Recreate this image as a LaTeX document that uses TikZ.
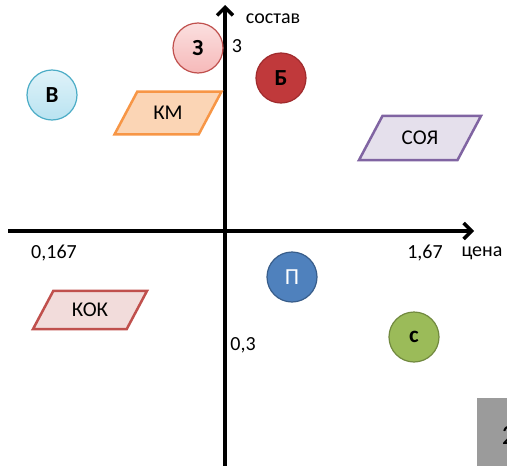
\documentclass[tikz,border=0pt]{standalone}
\usepackage{fontspec}
\setmainfont{Carlito}
\usetikzlibrary{arrows.meta,shapes.geometric}

\definecolor{zfill}{HTML}{F6B9B9}
\definecolor{zline}{HTML}{C0504D}
\definecolor{bfill}{HTML}{C0393B}
\definecolor{bline}{HTML}{A02B2D}
\definecolor{vfill}{HTML}{B9E3F1}
\definecolor{vline}{HTML}{4BACC6}
\definecolor{pfill}{HTML}{4F81BD}
\definecolor{pline}{HTML}{385D8A}
\definecolor{sfill}{HTML}{9BBB59}
\definecolor{sline}{HTML}{71893F}
\definecolor{kmfill}{HTML}{FBD5B5}
\definecolor{kmline}{HTML}{F79646}
\definecolor{soyfill}{HTML}{E5E0EC}
\definecolor{soyline}{HTML}{8064A2}
\definecolor{kokfill}{HTML}{F2DCDB}
\definecolor{kokline}{HTML}{C0504D}
\definecolor{boxgray}{HTML}{9B9B9B}

\begin{document}
\begin{tikzpicture}[x=1pt,y=-1pt,
  every node/.style={font=\fontsize{20}{23}\selectfont},
  axis/.style={line width=3.5pt,-{Straight Barb[length=8pt,width=16pt]}},
  ball/.style={circle,draw,line width=1.2pt,minimum size=50pt,inner sep=0pt,
    font=\fontsize{23}{26}\selectfont\bfseries},
  para/.style={trapezium,draw,line width=2.5pt,trapezium left angle=62,
    trapezium right angle=118,trapezium stretches body=true,inner xsep=0pt,
    font=\fontsize{21}{24}\selectfont}]
  \useasboundingbox (0,0) rectangle (507,466);

  \coordinate (xs) at (8,231);
  \coordinate (xe) at (474,231);
  \coordinate (ys) at (225,466);
  \coordinate (ye) at (225,5);
  \draw[axis] (xs) -- (xe);
  \draw[axis] (ys) -- (ye);

  \node (ylbl) at (273,19) {состав};
  \node (xlbl) at (482,253) {цена};
  \node (ytop) at (237,46) {3};
  \node (ybot) at (243,345) {0,3};
  \node (xleft) at (54,253) {0,167};
  \node (xright) at (425,253) {1,67};

  \node[ball,draw=zline,top color=zfill!45,bottom color=zfill] (z) at (198,48) {З};
  \node[ball,draw=bline,fill=bfill] (b) at (281,78) {Б};
  \node[ball,draw=vline,top color=vfill!45,bottom color=vfill] (v) at (52,95) {В};
  \node[ball,draw=pline,fill=pfill,text=white,font=\fontsize{23}{26}\selectfont] (p) at (292,277) {П};
  \node[ball,draw=sline,fill=sfill] (s) at (414,337) {с};

  \node[para,draw=kmline,fill=kmfill,minimum width=107pt,inner ysep=14.7pt] (km) at (168,113) {КМ};
  \node[para,draw=soyline,fill=soyfill,minimum width=122pt,inner ysep=15.2pt] (soy) at (420,138) {СОЯ};
  \node[para,draw=kokline,fill=kokfill,minimum width=114pt,inner ysep=12.2pt] (kok) at (90,310) {КОК};

  \begin{scope}
    \clip (477,398) rectangle (507,466);
    \node[fill=boxgray,minimum width=30pt,minimum height=68pt,inner sep=0pt] (pg) at (492,432) {};
    \node[font=\fontsize{28}{30}\selectfont] (pgnum) at (509,435) {2};
  \end{scope}
\end{tikzpicture}
\end{document}
